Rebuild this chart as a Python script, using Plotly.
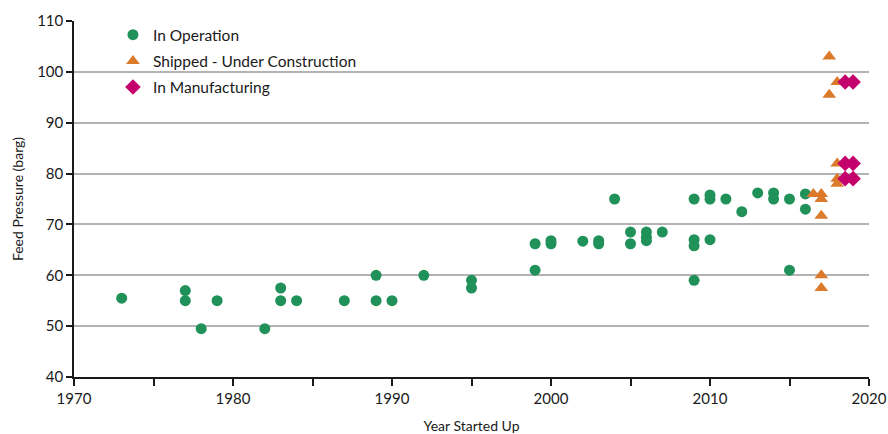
import plotly.graph_objects as go

# In Operation
op_year = [1973, 1977, 1977, 1978, 1979, 1982, 1983, 1983, 1984, 1987, 1989, 1989, 1990, 1992,
           1995, 1995, 1999, 1999, 2000, 2000, 2002, 2003, 2003, 2004, 2005, 2005, 2006, 2006, 2006, 2007,
           2009, 2009, 2009, 2009, 2010, 2010, 2010, 2011, 2012, 2013, 2014, 2014, 2015, 2015, 2016, 2016]
op_val = [55.5, 57.0, 55.0, 49.5, 55.0, 49.5, 57.5, 55.0, 55.0, 55.0, 60.0, 55.0, 55.0, 60.0,
          59.0, 57.5, 66.2, 61.0, 66.8, 66.2, 66.7, 66.8, 66.2, 75.0, 68.5, 66.2, 68.5, 67.5, 66.8, 68.5,
          75.0, 67.0, 65.8, 59.0, 75.8, 75.0, 67.0, 75.0, 72.5, 76.2, 76.2, 75.0, 75.0, 61.0, 76.0, 73.0]

# Shipped - Under Construction
sh_year = [2016.5, 2017, 2017, 2017, 2017, 2017, 2017.5, 2017.5, 2018, 2018, 2018, 2018]
sh_val = [76.0, 76.0, 75.0, 71.7, 60.0, 57.5, 103.0, 95.5, 98.0, 82.0, 79.0, 78.0]

# In Manufacturing
mf_year = [2018.5, 2019, 2018.5, 2019, 2018.5, 2019]
mf_val = [98.0, 98.0, 82.0, 82.0, 79.0, 79.0]

x_ticks = [1970, 1975, 1980, 1985, 1990, 1995, 2000, 2005, 2010, 2015, 2020]
x_labels = ["1970", "", "1980", "", "1990", "", "2000", "", "2010", "", "2020"]
y_ticks = [40, 50, 60, 70, 80, 90, 100, 110]

GREEN = "#21915a"
ORANGE = "#dc7a2c"
MAGENTA = "#c4006c"
FONT = "Lato"
TXT = "#1a1a1a"

fig = go.Figure()
fig.add_trace(go.Scatter(x=op_year, y=op_val, mode="markers", name="In Operation",
                         legendgroup="a",
                         marker=dict(symbol="circle", size=11, color=GREEN)))
fig.add_trace(go.Scatter(x=sh_year, y=sh_val, mode="markers", name="Shipped - Under Construction",
                         legendgroup="b",
                         marker=dict(symbol="triangle-up", size=12, color=ORANGE)))
fig.add_trace(go.Scatter(x=mf_year, y=mf_val, mode="markers", name="In Manufacturing",
                         legendgroup="c",
                         marker=dict(symbol="diamond", size=12, color=MAGENTA)))

fig.update_layout(
    width=888, height=434,
    margin=dict(l=74, r=19, t=21, b=57, autoexpand=False),
    paper_bgcolor="white", plot_bgcolor="white",
    font=dict(family=FONT, size=14, color=TXT),
    showlegend=True,
    legend=dict(x=0.049, y=1.008, xanchor="left", yanchor="top",
                bgcolor="rgba(0,0,0,0)", font=dict(size=15.5, family=FONT, color=TXT),
                tracegroupgap=3, itemwidth=30),
    xaxis=dict(range=[1970, 2020], tickmode="array", tickvals=x_ticks, ticktext=x_labels,
               ticks="outside", ticklen=7, tickcolor=TXT, tickwidth=1.5,
               ticklabeloverflow="allow",
               showline=True, linecolor=TXT, linewidth=1.5, showgrid=False, zeroline=False,
               automargin=False,
               title=dict(text="Year Started Up", font=dict(size=14, family=FONT)),
               tickfont=dict(size=15, family=FONT)),
    yaxis=dict(range=[40, 110], tickmode="array", tickvals=y_ticks,
               ticks="outside", ticklen=6, tickcolor=TXT, tickwidth=1.5,
               showline=True, linecolor=TXT, linewidth=1.5, automargin=False,
               showgrid=True, gridcolor="#b3b3b3", gridwidth=1.5, zeroline=False,
               title=dict(text="Feed Pressure (barg)", font=dict(size=14, family=FONT), standoff=10),
               tickfont=dict(size=15, family=FONT)),
)

fig.write_html(
    "out.html",
    config={"displayModeBar": False},
    post_script="document.documentElement.style.overflow='hidden';"
                "document.body.style.margin='0';document.body.style.overflow='hidden';",
)
